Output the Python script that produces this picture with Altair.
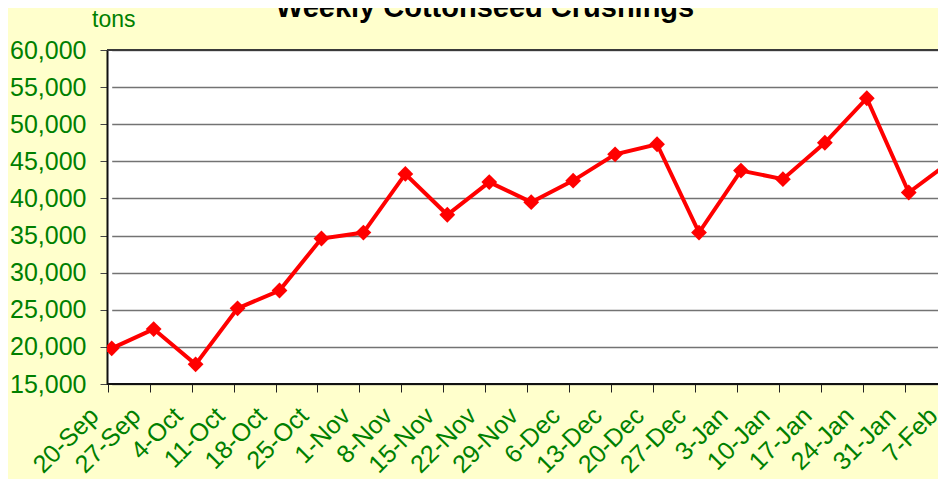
import altair as alt
import pandas as pd

weeks = ["20-Sep", "27-Sep", "4-Oct", "11-Oct", "18-Oct", "25-Oct", "1-Nov", "8-Nov",
         "15-Nov", "22-Nov", "29-Nov", "6-Dec", "13-Dec", "20-Dec", "27-Dec", "3-Jan",
         "10-Jan", "17-Jan", "24-Jan", "31-Jan", "7-Feb"]
tons = [19800, 22400, 17650, 25200, 27600, 34600, 35400, 43300,
        37800, 42200, 39500, 42400, 45950, 47300, 35400, 43750,
        42600, 47500, 53500, 40800, 45000]
y_ticks = [15000, 20000, 25000, 30000, 35000, 40000, 45000, 50000, 55000, 60000]
title_text = "Weekly Cottonseed Crushings"
unit_text = "tons"

FONT = "Liberation Sans, Arial, sans-serif"
GREEN = "#008000"

df = pd.DataFrame({"week": weeks, "tons": tons})

x_enc = alt.X(
    "week:N", sort=weeks,
    scale=alt.Scale(type="point", range=[4.7, 843.7], padding=0),
    axis=alt.Axis(title=None, labelAngle=-45, labelAlign="right", labelBaseline="alphabetic",
                  labelFontSize=25, labelColor=GREEN, labelFont=FONT, tickSize=8,
                  tickColor="#222222", tickOffset=-4, labelOffset=-8, labelPadding=25,
                  domain=False, labelOverlap=False, grid=False),
)
y_enc = alt.Y(
    "tons:Q",
    scale=alt.Scale(domain=[15000, 60000], nice=False, zero=False),
    axis=alt.Axis(title=None, values=y_ticks, format=",d", labelFontSize=25, labelColor=GREEN,
                  labelFont=FONT, tickSize=7, labelPadding=14, tickColor="#444444",
                  labelOverlap=False, labelFlush=False, grid=True,
                  domainColor="#111111", domainWidth=2, gridColor="#737373", gridWidth=1.6),
)

base = alt.Chart(df)
line = base.mark_line(color="#FF0000", strokeWidth=4, clip=True).encode(x=x_enc, y=y_enc)
pts = base.mark_point(shape="diamond", filled=True, size=250, color="#FF0000", opacity=1,
                      clip=True).encode(x=x_enc, y=y_enc)

bottom = alt.Chart(pd.DataFrame({"tons": [y_ticks[0]]})).mark_rule(
    color="#111111", strokeWidth=2).encode(y=y_enc)
top = alt.Chart(pd.DataFrame({"tons": [y_ticks[-1]]})).mark_rule(
    color="#3a3a3a", strokeWidth=2).encode(y=y_enc)

title = alt.Chart(pd.DataFrame({"t": [title_text]})).mark_text(
    font=FONT, fontSize=29, fontWeight="bold", color="black", align="center",
    baseline="alphabetic").encode(x=alt.value(378), y=alt.value(-33.5), text="t:N")
unit = alt.Chart(pd.DataFrame({"t": [unit_text]})).mark_text(
    font=FONT, fontSize=23, color=GREEN, align="left",
    baseline="alphabetic").encode(x=alt.value(-15), y=alt.value(-23), text="t:N")

chart = alt.layer(line, pts, bottom, top, title, unit).properties(
    width=831, height=334,
    padding={"left": 99, "top": 42, "right": 0, "bottom": 95},
    autosize=alt.AutoSizeParams(type="none"),
    background="#FFFFCC",
).configure_view(fill="white", stroke=None)

chart.save("out.html", embed_options={"renderer": "svg", "actions": False})
